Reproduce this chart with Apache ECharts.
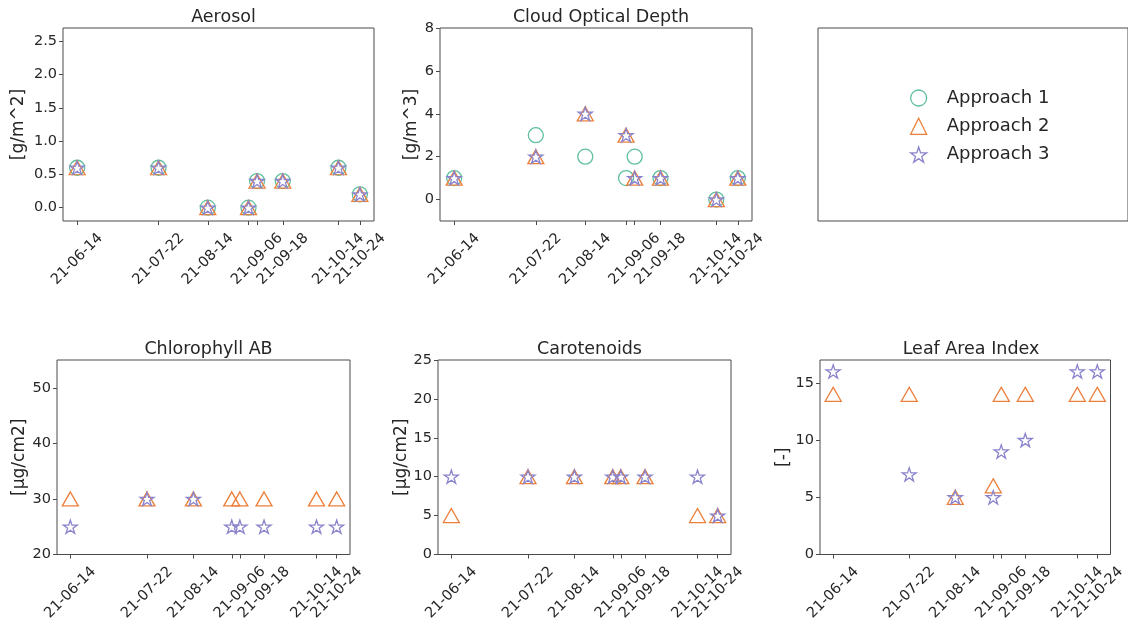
<!DOCTYPE html>
<html>
<head>
<meta charset="utf-8">
<script src="https://cdn.jsdelivr.net/npm/echarts@6/dist/echarts.min.js"></script>
<style>
  html, body { margin: 0; padding: 0; background: #fff; }
  #chart { width: 1128px; height: 625px; }
</style>
</head>
<body>
<div id="chart"></div>
<script>
// Observation dates (the 2021-09-02 tick carries no label)
const dates = ['2021-06-14', '2021-07-22', '2021-08-14', '2021-09-02',
               '2021-09-06', '2021-09-18', '2021-10-14', '2021-10-24'];
const labeledDates = ['2021-06-14', '2021-07-22', '2021-08-14', '2021-09-06',
                      '2021-09-18', '2021-10-14', '2021-10-24'];
const seriesNames = ['Approach 1', 'Approach 2', 'Approach 3'];

// Aerosol [g/m^2]
const aerosol1 = [0.6, 0.6, 0.0, 0.0, 0.4, 0.4, 0.6, 0.2];
const aerosol2 = [0.6, 0.6, 0.0, 0.0, 0.4, 0.4, 0.6, 0.2];
const aerosol3 = [0.6, 0.6, 0.0, 0.0, 0.4, 0.4, 0.6, 0.2];
const aerosolTicks = [0, 0.5, 1.0, 1.5, 2.0, 2.5];

// Cloud optical depth [g/m^3]
const cloud1 = [1, 3, 2, 1, 2, 1, 0, 1];
const cloud2 = [1, 2, 4, 3, 1, 1, 0, 1];
const cloud3 = [1, 2, 4, 3, 1, 1, 0, 1];
const cloudTicks = [0, 2, 4, 6, 8];

// Chlorophyll AB [µg/cm2]
const chloro2 = [30, 30, 30, 30, 30, 30, 30, 30];
const chloro3 = [25, 30, 30, 25, 25, 25, 25, 25];
const chloroTicks = [20, 30, 40, 50];

// Carotenoids [µg/cm2]
const carot2 = [5, 10, 10, 10, 10, 10, 5, 5];
const carot3 = [10, 10, 10, 10, 10, 10, 10, 5];
const carotTicks = [0, 5, 10, 15, 20, 25];

// Leaf area index [-]
const lai2 = [14, 14, 5, 6, 14, 14, 14, 14];
const lai3 = [16, 7, 5, 5, 9, 10, 16, 16];
const laiTicks = [0, 5, 10, 15];

const COLORS = ['#5fbf9f', '#ec7f3a', '#8a84cc'];
const FRAME = '#4a4a4a';
const TEXT = '#262626';
const FONT = 'DejaVu Sans';

const DAY = 86400000;
const t0 = Date.parse(dates[0]);
const dayOf = d => (Date.parse(d) - t0) / DAY;
const dayTicks = dates.map(dayOf);
const dayLabels = labeledDates.map(dayOf);
// labels are split over two overlaid axes so neighbouring labels never get culled
const labelsEven = dayLabels.filter((_, i) => i % 2 === 0);
const labelsOdd = dayLabels.filter((_, i) => i % 2 === 1);
const spanDays = dayTicks[dayTicks.length - 1] - dayTicks[0];
const xMin = dayTicks[0] - 0.05 * spanDays;
const xMax = dayTicks[dayTicks.length - 1] + 0.05 * spanDays;

function shortDate(v) {
  const d = new Date(t0 + Math.round(v) * DAY);
  const p = n => String(n).padStart(2, '0');
  return p(d.getUTCFullYear() % 100) + '-' + p(d.getUTCMonth() + 1) + '-' + p(d.getUTCDate());
}

// five-pointed star outline
function starPath() {
  const pts = [];
  for (let i = 0; i < 10; i++) {
    const r = i % 2 === 0 ? 1 : 0.381966;
    const a = -Math.PI / 2 + i * Math.PI / 5;
    pts.push((r * Math.cos(a)).toFixed(4) + ',' + (r * Math.sin(a)).toFixed(4));
  }
  return 'path://M' + pts.join('L') + 'Z';
}
const STAR = starPath();
const SYMBOLS = ['circle', 'triangle', STAR];
const SIZES = [15, [16, 14], 14];

// panel layout (pixels)
const panels = [
  { title: 'Aerosol', unit: '[g/m^2]', left: 63, top: 28, width: 311, height: 193,
    min: -0.2, max: 2.7, ticks: aerosolTicks, fmt: v => v.toFixed(1), nameGap: 36,
    values: [aerosol1, aerosol2, aerosol3] },
  { title: 'Cloud Optical Depth', unit: '[g/m^3]', left: 440, top: 28, width: 312, height: 193,
    min: -1, max: 8, ticks: cloudTicks, fmt: v => String(v), nameGap: 20,
    values: [cloud1, cloud2, cloud3] },
  { title: 'Chlorophyll AB', unit: '[µg/cm2]', left: 57, top: 360, width: 293, height: 194.5,
    min: 20, max: 55, ticks: chloroTicks, fmt: v => String(v), nameGap: 29,
    values: [null, chloro2, chloro3] },
  { title: 'Carotenoids', unit: '[µg/cm2]', left: 438, top: 360, width: 293, height: 194.5,
    min: 0, max: 25, ticks: carotTicks, fmt: v => String(v), nameGap: 28,
    values: [null, carot2, carot3] },
  { title: 'Leaf Area Index', unit: '[-]', left: 820, top: 360, width: 292, height: 194.5,
    min: 0, max: 17, ticks: laiTicks, fmt: v => String(v), nameGap: 28,
    values: [null, lai2, lai3] }
];

const grid = [], xAxis = [], yAxis = [], series = [], title = [];

function dateAxis(gi, labels, withTicks) {
  return {
    type: 'value', gridIndex: gi, position: 'bottom', offset: 0, min: xMin, max: xMax,
    axisLine: { show: false, onZero: false },
    splitLine: { show: false },
    axisTick: { show: withTicks, customValues: dayTicks, length: 4, lineStyle: { color: FRAME, width: 1 } },
    axisLabel: { customValues: labels, formatter: shortDate, rotate: 45, align: 'center',
                 verticalAlign: 'middle', margin: 38, fontFamily: FONT, fontSize: 14.5, color: TEXT,
                 hideOverlap: false, showMinLabel: true, showMaxLabel: true }
  };
}

panels.forEach((p, gi) => {
  grid.push({ left: p.left, top: p.top, width: p.width, height: p.height,
              show: true, borderColor: FRAME, borderWidth: 1, backgroundColor: 'transparent' });
  title.push({ text: p.title, left: p.left + p.width / 2, top: p.top - 25, textAlign: 'center',
               textStyle: { fontFamily: FONT, fontSize: 17.5, fontWeight: 'normal', color: TEXT } });
  const xi = xAxis.length;
  xAxis.push(dateAxis(gi, labelsEven, true));
  xAxis.push(dateAxis(gi, labelsOdd, false));
  yAxis.push({
    type: 'value', gridIndex: gi, min: p.min, max: p.max,
    axisLine: { show: false, onZero: false },
    splitLine: { show: false },
    axisTick: { show: true, customValues: p.ticks, length: 4, lineStyle: { color: FRAME, width: 1 } },
    axisLabel: { customValues: p.ticks, formatter: p.fmt, margin: 6, fontFamily: FONT,
                 fontSize: 14.5, color: TEXT, showMinLabel: true, showMaxLabel: true },
    name: p.unit, nameLocation: 'middle', nameGap: p.nameGap,
    nameTextStyle: { fontFamily: FONT, fontSize: 17, color: TEXT }
  });
  p.values.forEach((vals, si) => {
    if (!vals) return;
    series.push({
      type: 'scatter', name: seriesNames[si], xAxisIndex: xi, yAxisIndex: gi,
      symbol: SYMBOLS[si], symbolSize: SIZES[si], symbolKeepAspect: true,
      itemStyle: { color: 'transparent', borderColor: COLORS[si], borderWidth: 1.3, opacity: 1 },
      emphasis: { disabled: true },
      data: dates.map((d, i) => [dayOf(d), vals[i]])
    });
  });
});

// framed legend panel
const legendIdx = panels.length;
grid.push({ left: 818, top: 28, width: 330, height: 193, show: true,
            borderColor: FRAME, borderWidth: 1, backgroundColor: 'transparent' });
xAxis.push({ type: 'value', gridIndex: legendIdx, show: false });
yAxis.push({ type: 'value', gridIndex: legendIdx, show: false });

const chart = echarts.init(document.getElementById('chart'), null, { renderer: 'canvas' });
chart.setOption({
  animation: false,
  backgroundColor: '#fff',
  title, grid, xAxis, yAxis, series,
  legend: {
    orient: 'vertical', left: 905, top: 84,
    itemWidth: 16, itemHeight: 16, itemGap: 10.3,
    selectedMode: false,
    formatter: n => '{t|' + n + '}',
    textStyle: {
      fontFamily: FONT, fontSize: 18, color: TEXT,
      rich: { t: { fontFamily: FONT, fontSize: 18, color: TEXT, lineHeight: 18, padding: [0, 0, 0, 15] } }
    },
    data: seriesNames.map((n, i) => ({
      name: n, icon: SYMBOLS[i],
      itemStyle: { color: 'transparent', borderColor: COLORS[i], borderWidth: 1.3 }
    }))
  }
});
</script>
</body>
</html>
